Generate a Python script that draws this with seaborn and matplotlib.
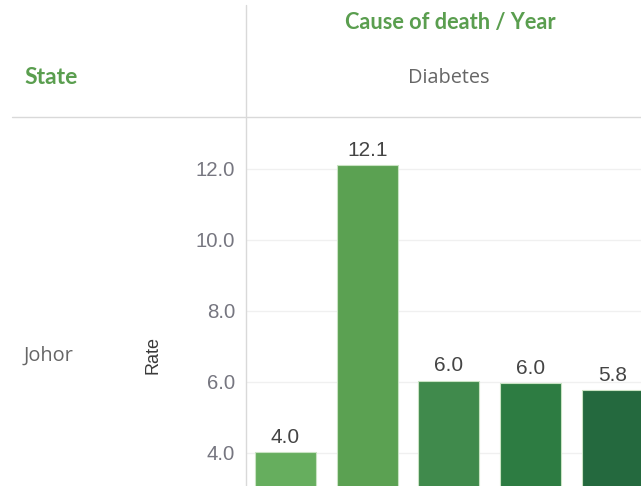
import matplotlib
matplotlib.use("Agg")
import matplotlib.pyplot as plt
import seaborn as sns
from matplotlib.lines import Line2D

# Diabetes death rate, Johor, one bar per year
years = ["2016", "2017", "2018", "2019", "2020"]
rates = [4.02, 12.1, 6.04, 5.96, 5.77]
bar_colors = ["#66ae5e", "#5ba152", "#408a4c", "#2d7c42", "#24693e"]
y_ticks = [4.0, 6.0, 8.0, 10.0, 12.0]

sns.set_theme(style="white")
plt.rcParams["font.family"] = ["Liberation Sans", "DejaVu Sans"]

W, H = 641, 486
fig = plt.figure(figsize=(W / 100, H / 100), dpi=100)
ax = fig.add_axes([246 / W, 0, (W - 246) / W, (H - 117) / H])

sns.barplot(x=years, y=rates, hue=years, palette=bar_colors, legend=False,
            saturation=1, width=0.746, edgecolor="#c9e3c3", linewidth=0.8, ax=ax)

ax.set_xlim(-0.483, 4.349)
ax.set_ylim(3.07, 13.46)
ax.set_yticks(y_ticks)
ax.set_yticklabels([f"{v:.1f}" for v in y_ticks])
ax.tick_params(axis="y", length=0, pad=8, labelsize=14.7, labelcolor="#767680")
ax.set_xticks([])
ax.set_xlabel("")
ax.yaxis.grid(True, color="#f0f0f0", linewidth=1)
ax.set_axisbelow(True)
for side in ["top", "right", "bottom", "left"]:
    ax.spines[side].set_visible(False)

ax.set_ylabel("Rate", fontsize=13, color="#3a3a3a")
ax.yaxis.set_label_coords(-0.213, 0.355)

for cont in ax.containers:
    ax.bar_label(cont, fmt="%.1f", padding=4, fontsize=15, color="#444444")

# header / row dividers of the table layout
fig.add_artist(Line2D([246 / W, 246 / W], [0, 1 - 5 / H], color="#d9d9d9", linewidth=1))
fig.add_artist(Line2D([12 / W, 1], [1 - 117 / H, 1 - 117 / H], color="#d9d9d9", linewidth=1))

green = "#5a9e4f"
fig.text(450 / W, 1 - 22 / H, "Cause of death / Year", ha="center", va="center",
         fontsize=15.7, fontweight="bold", color=green, family=["Lato", "DejaVu Sans"])
fig.text(24 / W, 1 - 77 / H, "State", ha="left", va="center",
         fontsize=16.5, fontweight="bold", color=green, family=["Lato", "DejaVu Sans"])
fig.text(449 / W, 1 - 78 / H, "Diabetes", ha="center", va="center",
         fontsize=14.3, color="#666666", family=["Open Sans", "DejaVu Sans"])
fig.text(24 / W, 1 - 356 / H, "Johor", ha="left", va="center",
         fontsize=14.4, color="#666666", family=["Open Sans", "DejaVu Sans"])

fig.savefig("out.png", dpi=100)
